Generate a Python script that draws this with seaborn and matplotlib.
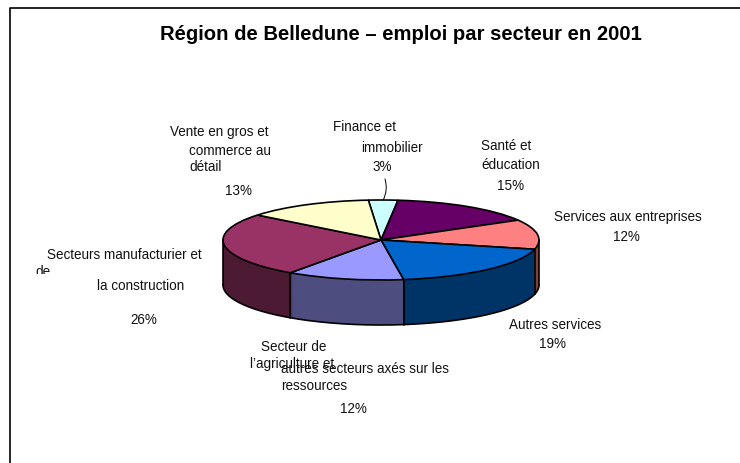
import numpy as np
import matplotlib
matplotlib.use("Agg")
import matplotlib.pyplot as plt
from matplotlib.patches import Rectangle
import seaborn as sns

# clockwise from the top of the pie
sectors = ["Finance", "Santé", "Services entreprises", "Autres services",
           "Agriculture", "Manufacturier", "Vente"]
shares = [3, 15, 12, 19, 12, 26, 13]
top_colors = ["#CCFFFF", "#660066", "#FF8080", "#0066CC", "#9999FF", "#993366", "#FFFFCC"]
title = "Région de Belledune – emploi par secteur en 2001"

W, H = 740, 464
CX, CY = 381, 241    # pie centre in pixels
RX, RY = 158, 40     # radii in pixels
DEPTH = 45 / RY      # wall height in data units

sns.set_theme(style="white")
plt.rcParams["font.family"] = ["Liberation Sans", "DejaVu Sans"]

fig = plt.figure(figsize=(W / 100, H / 100), dpi=100)
ax = fig.add_axes([0, 0, 1, 1])

palette = sns.color_palette(top_colors)
side_colors = [tuple(np.array(c) * 0.5) for c in palette]
pie_args = dict(startangle=94.6, counterclock=False, radius=1)

# wall: stack of darker pies going down
for off in np.linspace(DEPTH, 0.02, 60):
    ax.pie(shares, colors=side_colors, center=(0, -off), frame=True,
           wedgeprops=dict(linewidth=0), **pie_args)

wedges, _ = ax.pie(shares, colors=palette, center=(0, 0), frame=True,
                   wedgeprops=dict(edgecolor="black", linewidth=1.2), **pie_args)

ax.set_xlim(-CX / RX, (W - CX) / RX)
ax.set_ylim((CY - H) / RY, CY / RY)
ax.set_aspect("auto")
ax.axis("off")

# outline of the wall
t = np.radians(np.linspace(180, 360, 200))
ax.plot(np.cos(t), np.sin(t) - DEPTH, color="black", lw=1.2)
ax.plot([-1, -1], [0, -DEPTH], color="black", lw=1.2)
ax.plot([1, 1], [0, -DEPTH], color="black", lw=1.2)
for w in wedges:
    th = np.radians(w.theta1)
    if np.sin(th) < 0:
        ax.plot([np.cos(th)] * 2, [np.sin(th), np.sin(th) - DEPTH], color="black", lw=1.2)

# leader of the Finance label
mid = np.radians((wedges[0].theta1 + wedges[0].theta2) / 2)
ax.annotate("", xy=(np.cos(mid), np.sin(mid)), xycoords="data",
            xytext=(385 / W, 1 - 180 / H), textcoords="figure fraction",
            arrowprops=dict(arrowstyle="-", color="black", lw=0.7,
                            shrinkA=0, shrinkB=0, connectionstyle="arc3,rad=-0.2"))

# only the top and left edges of the picture frame show
fig.add_artist(plt.Line2D([10 / W, 10 / W, 1], [0, 1 - 8.5 / H, 1 - 8.5 / H], transform=fig.transFigure,
                          color="black", lw=1.2))

def label(x, y, s, **kw):
    return fig.text(x / W, 1 - y / H, s, fontsize=9.75, color="#111111", ha="left", va="center", **kw)

fig.text(401 / W, 1 - 34 / H, title, fontsize=14.6, fontweight="bold", ha="center", va="center", color="black")

label(170, 132, "Vente en gros et")
label(189, 151, "commerce au")
label(189, 167, "détail")
label(225, 191, "13%")
label(333, 127, "Finance et")
label(361, 148, "immobilier")
label(373, 167, "3%")
label(481, 146, "Santé et")
label(481, 165, "éducation")
label(497, 186, "15%")
label(554, 217, "Services aux entreprises")
label(613, 237, "12%")
label(509, 325, "Autres services")
label(539, 344, "19%")
label(47, 255, "Secteurs manufacturier et")
de = label(35, 272, "de")
de.set_clip_path(Rectangle((0, H - 275), W, 40, transform=None))
label(97, 286, "la construction")
label(130, 320, "26%")
label(261, 347, "Secteur de")
label(250, 364, "l’agriculture et")
label(281, 369, "autres secteurs axés sur les")
label(281, 386, "ressources")
label(340, 409, "12%")

fig.savefig("out.png", dpi=100)
